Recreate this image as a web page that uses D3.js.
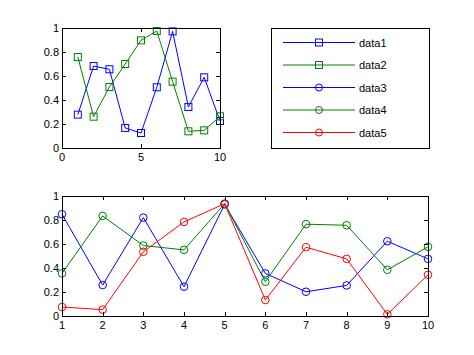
<!DOCTYPE html>
<html><head><meta charset="utf-8">
<script src="https://cdn.jsdelivr.net/npm/d3@7"></script>
<style>body{margin:0;background:#fff}svg{display:block}text{font-family:"Liberation Sans",Arial,sans-serif;font-size:11px;fill:#000}</style>
</head><body>
<svg id="c" width="474" height="355"></svg>
<script>
const xTop = [1,2,3,4,5,6,7,8,9,10];
const data1 = [0.278,0.683,0.656,0.167,0.125,0.506,0.972,0.342,0.589,0.225];
const data2 = [0.758,0.261,0.508,0.700,0.897,0.975,0.553,0.139,0.147,0.264];
const xBot = [1,2,3,4,5,6,7,8,9,10];
const data3 = [0.848,0.258,0.820,0.244,0.930,0.355,0.202,0.255,0.623,0.476];
const data4 = [0.355,0.834,0.587,0.551,0.936,0.285,0.765,0.756,0.385,0.576];
const data5 = [0.075,0.053,0.535,0.784,0.936,0.133,0.573,0.476,0.014,0.343];
const topXTicks = [0,5,10];
const yTicks = [0,0.2,0.4,0.6,0.8,1];
const botXTicks = [1,2,3,4,5,6,7,8,9,10];
const legendNames = ["data1","data2","data3","data4","data5"];

const BLUE="#0000ff", GREEN="#008000", RED="#ff0000";
const svg = d3.select("#c");
const fmt = d => d3.format("~g")(d);

function axesBox(x, y, xt, yt){
  const [x0,x1]=x.range(), [y0,y1]=y.range();
  const g = svg.append("g");
  const tl=4;
  // ticks inward, bottom/top
  xt.forEach(v=>{
    const px=Math.round(x(v))+0.5;
    g.append("line").attr("x1",px).attr("x2",px).attr("y1",y0).attr("y2",y0-tl).attr("stroke","#000");
    g.append("line").attr("x1",px).attr("x2",px).attr("y1",y1).attr("y2",y1+tl).attr("stroke","#000");
    g.append("text").attr("x",x(v)).attr("y",y0+13).attr("text-anchor","middle").text(fmt(v));
  });
  yt.forEach(v=>{
    const py=Math.round(y(v))+0.5;
    g.append("line").attr("x1",x0).attr("x2",x0+tl).attr("y1",py).attr("y2",py).attr("stroke","#000");
    g.append("line").attr("x1",x1).attr("x2",x1-tl).attr("y1",py).attr("y2",py).attr("stroke","#000");
    g.append("text").attr("x",x0-3).attr("y",y(v)+4).attr("text-anchor","end").text(fmt(v));
  });
  g.append("rect").attr("x",x0+0.5).attr("y",y1+0.5).attr("width",x1-x0).attr("height",y0-y1)
    .attr("fill","none").attr("stroke","#000");
}

function series(x,y,xs,ys,color,marker){
  const line=d3.line().x((d,i)=>x(xs[i])).y(d=>y(d));
  svg.append("path").attr("d",line(ys)).attr("fill","none").attr("stroke",color).attr("stroke-width",1);
  ys.forEach((v,i)=>{
    if(marker==="s"){
      svg.append("rect").attr("x",x(xs[i])-3.5).attr("y",y(v)-3.5).attr("width",7).attr("height",7)
        .attr("fill","none").attr("stroke",color);
    } else {
      svg.append("circle").attr("cx",x(xs[i])).attr("cy",y(v)).attr("r",3.8)
        .attr("fill","none").attr("stroke",color);
    }
  });
}

// top plot
const xT=d3.scaleLinear().domain([0,10]).range([62,220]);
const yT=d3.scaleLinear().domain([0,1]).range([148,28]);
svg.append("rect").attr("x",62).attr("y",28).attr("width",158).attr("height",120).attr("fill","#fff");
series(xT,yT,xTop,data1,BLUE,"s");
series(xT,yT,xTop,data2,GREEN,"s");
axesBox(xT,yT,topXTicks,yTicks);

// legend
const lg=svg.append("g");
lg.append("rect").attr("x",271.5).attr("y",28.5).attr("width",158).attr("height",120).attr("fill","#fff").attr("stroke","#000");
const legColors=[BLUE,GREEN,BLUE,GREEN,RED], legMarkers=["s","s","o","o","o"];
const rowY=d3.scalePoint().domain(legendNames).range([42.5,132.5]);
legendNames.forEach((n,i)=>{
  const yy=rowY(n);
  lg.append("line").attr("x1",283).attr("x2",355).attr("y1",yy).attr("y2",yy).attr("stroke",legColors[i]);
  if(legMarkers[i]==="s") lg.append("rect").attr("x",315.5).attr("y",yy-3.5).attr("width",7).attr("height",7).attr("fill","none").attr("stroke",legColors[i]);
  else lg.append("circle").attr("cx",319).attr("cy",yy).attr("r",3.5).attr("fill","none").attr("stroke",legColors[i]);
  lg.append("text").attr("x",359).attr("y",yy+4).text(n);
});

// bottom plot
const xB=d3.scaleLinear().domain([1,10]).range([62,428]);
const yB=d3.scaleLinear().domain([0,1]).range([316,196]);
series(xB,yB,xBot,data3,BLUE,"o");
series(xB,yB,xBot,data4,GREEN,"o");
series(xB,yB,xBot,data5,RED,"o");
axesBox(xB,yB,botXTicks,yTicks);
</script>
</body></html>
